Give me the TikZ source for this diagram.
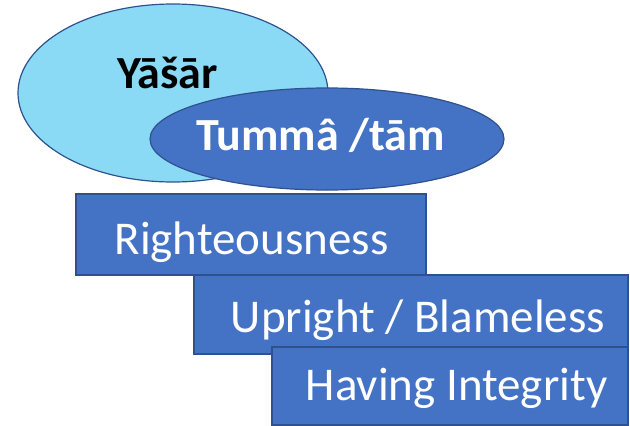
\documentclass[tikz,border=0pt]{standalone}
\usepackage{fontspec}
\setmainfont{Carlito}
\usetikzlibrary{shapes.geometric}
\definecolor{lightblu}{RGB}{138,218,246}
\definecolor{darkblu}{RGB}{68,114,196}
\definecolor{edgeblu}{RGB}{47,82,143}
\tikzset{
  ellA/.style={ellipse,draw=edgeblu,line width=1.2pt,fill=lightblu,inner sep=0pt},
  ellB/.style={ellipse,draw=edgeblu,line width=1.2pt,fill=darkblu,inner sep=0pt},
  boxr/.style={rectangle,draw=edgeblu,line width=1.5pt,fill=darkblu,inner sep=0pt},
  bigtxt/.style={anchor=base,inner sep=0pt,font=\fontsize{47}{50}\selectfont,text=white},
  boldtxt/.style={anchor=base,inner sep=0pt,font=\bfseries\fontsize{46}{50}\selectfont}
}
\begin{document}
\begin{tikzpicture}[x=1pt,y=-1pt]
\useasboundingbox (0,0) rectangle (630,426);
\node[ellA,minimum width=310pt,minimum height=178pt] (e1) at (173,93) {};
\node[ellB,minimum width=354pt,minimum height=102pt] (e2) at (327,139) {};
\node[boxr,minimum width=350pt,minimum height=81pt] (r1) at (251,234.5) {};
\node[boxr,minimum width=434pt,minimum height=79pt] (r2) at (411,314.5) {};
\node[boxr,minimum width=356pt,minimum height=78pt] (r3) at (450,386) {};
\node[boldtxt,text=black] (t1) at (167.5,88) {Yāšār};
\node[boldtxt,text=white] (t2) at (320.5,150) {Tummâ /tām};
\node[bigtxt] (t3) at (251.5,254) {Righteousness};
\node[bigtxt] (t4) at (418,332) {Upright / Blameless};
\node[bigtxt] (t5) at (456.5,400) {Having Integrity};
\end{tikzpicture}
\end{document}
